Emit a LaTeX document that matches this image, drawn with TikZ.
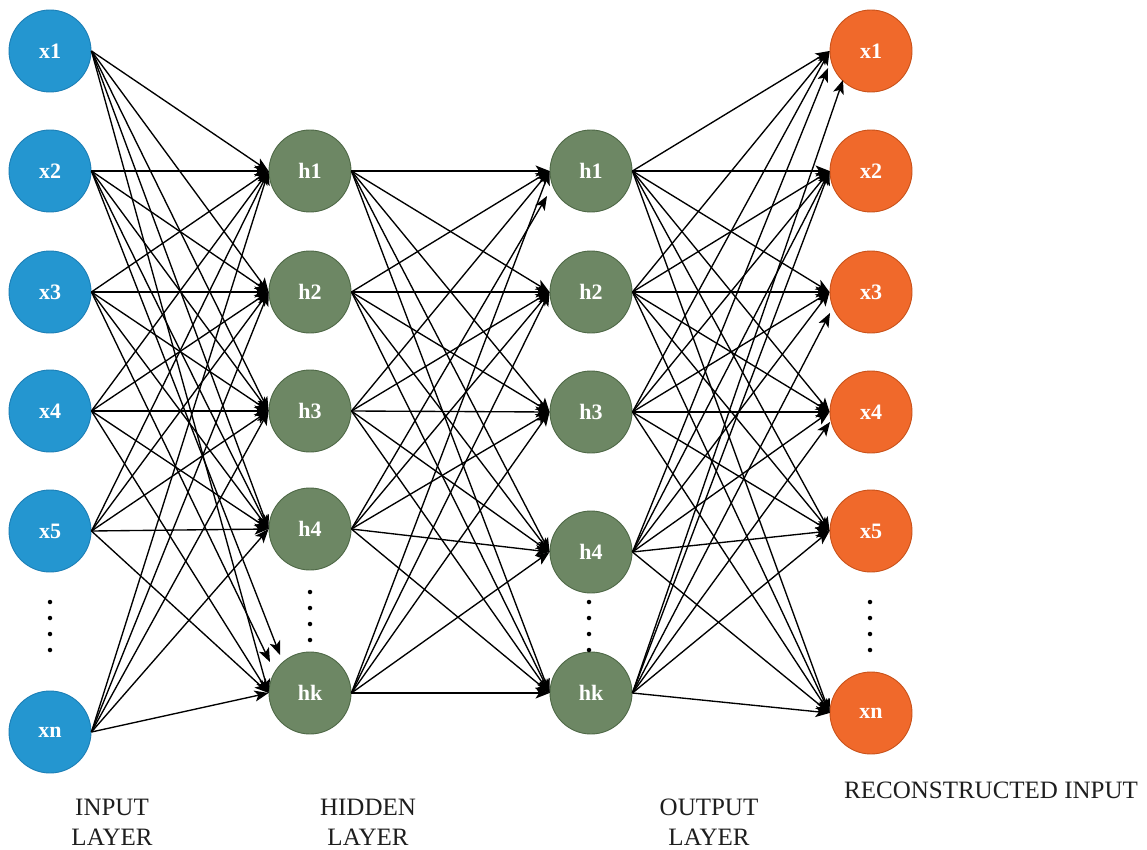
\documentclass[tikz,border=0pt]{standalone}
\usepackage{fontspec}
\setmainfont{Liberation Serif}
\usetikzlibrary{arrows.meta}

\definecolor{inblue}{HTML}{2496D0}
\definecolor{inblueline}{HTML}{1C7FB6}
\definecolor{hidgreen}{HTML}{6D8764}
\definecolor{hidgreenline}{HTML}{4E6846}
\definecolor{outorange}{HTML}{F0692B}
\definecolor{outorangeline}{HTML}{C9521A}
\definecolor{captext}{HTML}{1E1E1E}

% edges whose arrow tip stops off the west point of the target
\expandafter\def\csname tip-in2-hak\endcsname{hakA}
\expandafter\def\csname tip-in3-hak\endcsname{hakB}
\expandafter\def\csname tip-ha4-hb1\endcsname{hbA}
\expandafter\def\csname tip-hb4-out1\endcsname{outA}
\expandafter\def\csname tip-hbk-out1\endcsname{outB}
\expandafter\def\csname tip-hbk-out3\endcsname{outC}
\expandafter\def\csname tip-hbk-out4\endcsname{outD}

% connect every node of one layer to every node of the next
\newcommand\wirelayers[2]{%
  \foreach \s in {#1}{%
    \foreach \t in {#2}{%
      \ifcsname tip-\s-\t\endcsname
        \edef\tgt{\csname tip-\s-\t\endcsname}%
      \else
        \edef\tgt{\t.west}%
      \fi
      \draw[edge] (\s.east) -- (\tgt);
    }%
  }%
}

\begin{document}
\begin{tikzpicture}[x=1pt,y=-1pt,
  neuron/.style={circle, minimum size=82pt, inner sep=0pt, line width=0.9pt,
    text=white, font=\fontsize{22}{22}\selectfont\bfseries},
  inneuron/.style={neuron, fill=inblue, draw=inblueline},
  hidneuron/.style={neuron, fill=hidgreen, draw=hidgreenline},
  outneuron/.style={neuron, fill=outorange, draw=outorangeline},
  edge/.style={line width=1.35pt, draw=black,
    -{Stealth[length=14pt,width=11pt,inset=3.5pt]}},
  dot/.style={circle, fill=black, minimum size=4.5pt, inner sep=0pt},
  caption/.style={text=captext, font=\fontsize{25}{30}\selectfont, align=center}
]
\path[use as bounding box, fill=white] (0,0) rectangle (1147,850);

% input layer
\node[inneuron] (in1) at (50,51) {x1};
\node[inneuron] (in2) at (50,171) {x2};
\node[inneuron] (in3) at (50,292) {x3};
\node[inneuron] (in4) at (50,411) {x4};
\node[inneuron] (in5) at (50,531) {x5};
\node[inneuron] (inn) at (50,732) {xn};

% first hidden layer
\node[hidneuron] (ha1) at (310,171) {h1};
\node[hidneuron] (ha2) at (310,292) {h2};
\node[hidneuron] (ha3) at (310,411) {h3};
\node[hidneuron] (ha4) at (310,529) {h4};
\node[hidneuron] (hak) at (310,693) {hk};

% second hidden layer
\node[hidneuron] (hb1) at (591,171) {h1};
\node[hidneuron] (hb2) at (591,292) {h2};
\node[hidneuron] (hb3) at (591,412) {h3};
\node[hidneuron] (hb4) at (591,552) {h4};
\node[hidneuron] (hbk) at (591,693) {hk};

% reconstructed input
\node[outneuron] (out1) at (871,51) {x1};
\node[outneuron] (out2) at (871,171) {x2};
\node[outneuron] (out3) at (871,292) {x3};
\node[outneuron] (out4) at (871,412) {x4};
\node[outneuron] (out5) at (871,531) {x5};
\node[outneuron] (outn) at (871,713) {xn};

% off-west arrow tips
\coordinate (hakA) at ([shift={(-30,-38)}]hak.center);
\coordinate (hakB) at ([shift={(-40,-31)}]hak.center);
\coordinate (hbA) at ([shift={(-44,25)}]hb1.center);
\coordinate (outA) at ([shift={(-43,17)}]out1.center);
\coordinate (outB) at ([shift={(-28,29)}]out1.center);
\coordinate (outC) at ([shift={(-41,21)}]out3.center);
\coordinate (outD) at ([shift={(-41,10)}]out4.center);

% connections
\wirelayers{in1,in2,in3,in4,in5,inn}{ha1,ha2,ha3,ha4,hak}
\wirelayers{ha1,ha2,ha3,ha4,hak}{hb1,hb2,hb3,hb4,hbk}
\wirelayers{hb1,hb2,hb3,hb4,hbk}{out1,out2,out3,out4,out5,outn}

% vertical ellipses
\foreach \y in {602,618,634,650} \node[dot] (din\y) at (50,\y) {};
\foreach \y in {592,608,624,640} \node[dot] (dha\y) at (310,\y) {};
\foreach \y in {602,618,634,650} \node[dot] (dhb\y) at (589,\y) {};
\foreach \y in {602,618,634,650} \node[dot] (dout\y) at (870,\y) {};

% captions
\node[caption] (capin) at (112,822) {INPUT\\LAYER};
\node[caption] (caphid) at (368,822) {HIDDEN\\LAYER};
\node[caption] (capout) at (709,822) {OUTPUT\\LAYER};
\node[caption] (caprec) at (991,790) {RECONSTRUCTED INPUT};
\end{tikzpicture}
\end{document}
